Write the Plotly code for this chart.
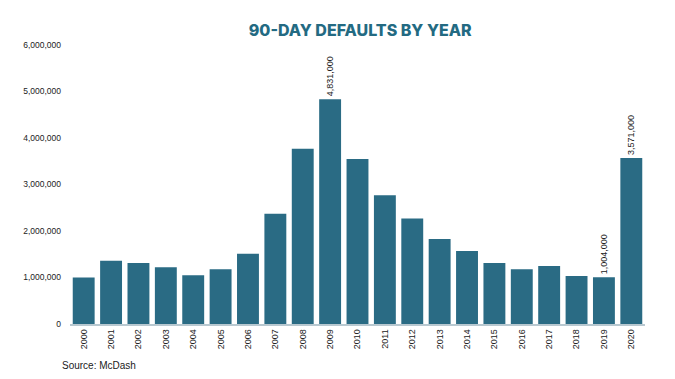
import plotly.graph_objects as go

years = [str(y) for y in range(2000, 2021)]
defaults = [1000000, 1360000, 1310000, 1220000, 1050000, 1180000, 1510000, 2370000,
            3770000, 4831000, 3550000, 2770000, 2270000, 1830000, 1570000, 1310000,
            1180000, 1250000, 1030000, 1004000, 3571000]
labeled = {"2009": "4,831,000", "2019": "1,004,000", "2020": "3,571,000"}
bar_text = [labeled.get(y, "") for y in years]
y_ticks = [0, 1000000, 2000000, 3000000, 4000000, 5000000, 6000000]
y_tick_labels = ["0", "1,000,000", "2,000,000", "3,000,000", "4,000,000", "5,000,000", "6,000,000"]

fig = go.Figure(go.Bar(
    x=years, y=defaults, marker=dict(color="#2a6b84", line=dict(width=0)),
    text=bar_text, textposition="outside", textangle=-90,
    textfont=dict(family="Liberation Sans, Arial", size=9, color="#222"),
    cliponaxis=False,
))

# page has an 8px body margin, so the figure is sized/placed to compensate
fig.update_layout(
    width=667, height=371,
    margin=dict(l=62, r=30, t=37, b=55),
    paper_bgcolor="white", plot_bgcolor="white",
    bargap=0.2, showlegend=False,
    title=dict(text="90-DAY DEFAULTS BY YEAR", x=0.528, xanchor="center", y=0.94, yanchor="middle",
               font=dict(family="Inter", size=16, color="#236a82", weight=800)),
    uniformtext=dict(minsize=8, mode="show"),
)
fig.add_annotation(text="Source: McDash", xref="paper", yref="paper", x=-0.0174, y=-0.15,
                   xanchor="left", yanchor="middle", showarrow=False,
                   font=dict(family="Liberation Sans, Arial", size=10, color="#222"))

fig.update_xaxes(type="category", tickangle=-90, showline=True, linecolor="#b8c8d0", linewidth=1.5,
                 ticks="", tickfont=dict(family="Liberation Sans, Arial", size=9, color="#222"),
                 showgrid=False)
fig.update_yaxes(range=[0, 6000000], tickvals=y_ticks, ticktext=y_tick_labels, showgrid=False,
                 zeroline=False, showline=False, ticks="", ticklabelstandoff=8,
                 tickfont=dict(family="Liberation Sans, Arial", size=8.5, color="#222"))

fig.write_html("out.html")
